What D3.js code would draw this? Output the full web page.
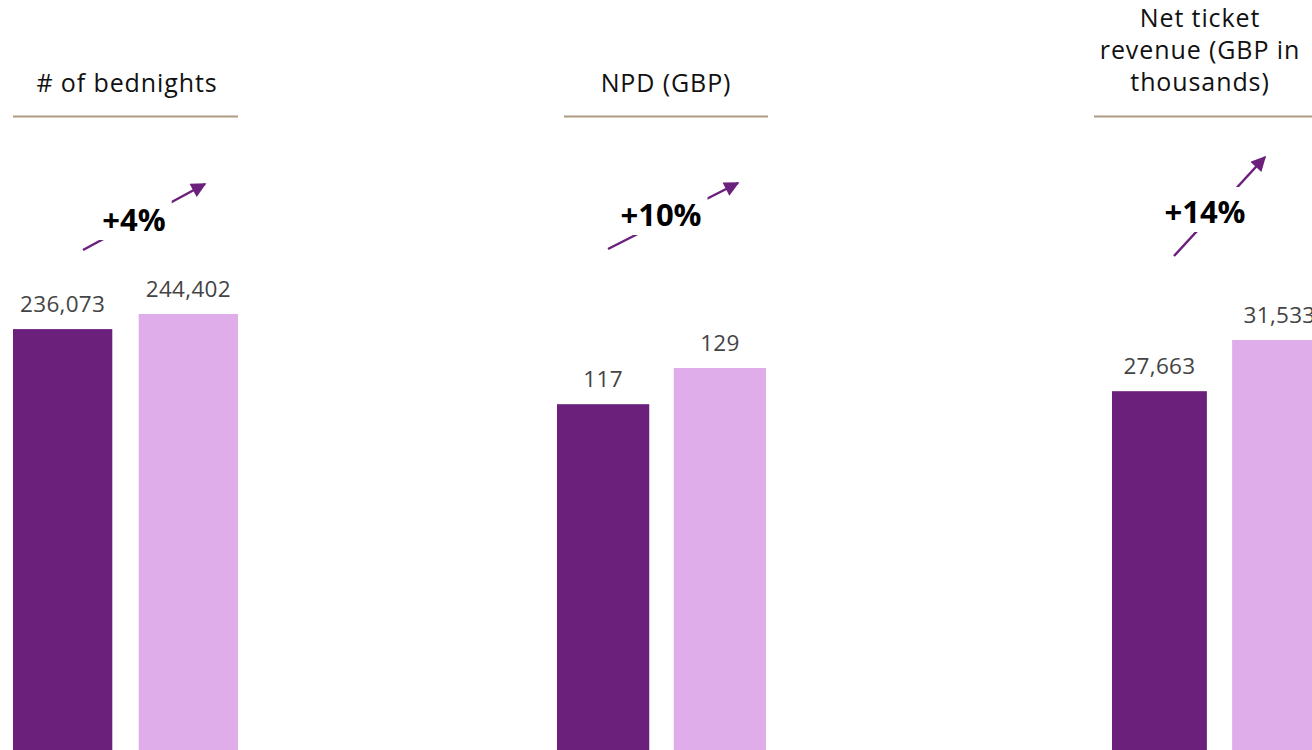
<!DOCTYPE html>
<html>
<head>
<meta charset="utf-8">
<script src="https://cdn.jsdelivr.net/npm/d3@7/dist/d3.min.js"></script>
<style>
  html, body { margin: 0; padding: 0; background: #fff; }
  svg { display: block; }
  text { font-family: "Open Sans", "Noto Sans", sans-serif; }
</style>
</head>
<body>
<svg id="chart" width="1312" height="750"></svg>
<script>
// Metric headers (one entry per line of the header)
const titleLines = [
  ["# of bednights"],
  ["NPD (GBP)"],
  ["Net ticket", "revenue (GBP in", "thousands)"]
];
const periods = ["previous", "current"];
const previousValues = [236073, 117, 27663];
const currentValues = [244402, 129, 31533];
const changeLabels = ["+4%", "+10%", "+14%"];

// Layout of each small-multiple panel
const W = 1312, H = 750;
const baseline = 757;
const panels = [
  { bars: [13, 238], rule: [13, 238], titleX: 127, titleY: 92, top: 314,
    arrow: [[83, 250], [205, 184]], pct: [134, 231] },
  { bars: [557, 766], rule: [564, 768], titleX: 666, titleY: 92, top: 368,
    arrow: [[608, 249], [738, 183]], pct: [661, 226] },
  { bars: [1112, 1327], rule: [1094, 1320], titleX: 1200, titleY: 27, top: 340,
    arrow: [[1174, 256], [1265, 157]], pct: [1205, 223] }
];

const colors = d3.scaleOrdinal().domain(periods).range(["#6b207b", "#dfadea"]);
const accent = "#6b207b";
const fmt = d3.format(",");

const svg = d3.select("#chart");

svg.append("defs").append("marker")
  .attr("id", "head")
  .attr("markerUnits", "userSpaceOnUse")
  .attr("viewBox", "0 0 10 10")
  .attr("refX", 9).attr("refY", 5)
  .attr("markerWidth", 17).attr("markerHeight", 15)
  .attr("orient", "auto")
  .append("path")
  .attr("d", "M0,0 L10,5 L0,10 Z")
  .attr("fill", accent);

panels.forEach((p, i) => {
  const g = svg.append("g");
  const rows = periods.map((k, j) => ({ key: k, value: j === 0 ? previousValues[i] : currentValues[i] }));

  const x = d3.scaleBand().domain(periods).range(p.bars).paddingInner(0.21).paddingOuter(0);
  const y = d3.scaleLinear().domain([0, d3.max(rows, d => d.value)]).range([baseline, p.top]);

  // header
  const t = g.append("text")
    .attr("x", p.titleX).attr("y", p.titleY)
    .attr("text-anchor", "middle")
    .attr("font-size", 25).attr("letter-spacing", 0.9).attr("fill", "#111");
  titleLines[i].forEach((line, k) => {
    t.append("tspan").attr("x", p.titleX).attr("dy", k === 0 ? 0 : 32).text(line);
  });

  g.append("line")
    .attr("x1", p.rule[0]).attr("x2", p.rule[1])
    .attr("y1", 116.5).attr("y2", 116.5)
    .attr("stroke", "#ad9a82").attr("stroke-width", 2);

  // bars
  g.selectAll("rect.bar").data(rows).join("rect")
    .attr("class", "bar")
    .attr("x", d => x(d.key))
    .attr("width", x.bandwidth())
    .attr("y", d => y(d.value))
    .attr("height", d => baseline - y(d.value))
    .attr("fill", d => colors(d.key));

  // value labels
  g.selectAll("text.val").data(rows).join("text")
    .attr("class", "val")
    .attr("x", d => x(d.key) + x.bandwidth() / 2)
    .attr("y", d => y(d.value) - 17)
    .attr("text-anchor", "middle")
    .attr("font-size", 22.5).attr("letter-spacing", 0.3).attr("fill", "#444")
    .text(d => fmt(d.value));

  // growth arrow with the change label sitting on it
  g.append("line")
    .attr("x1", p.arrow[0][0]).attr("y1", p.arrow[0][1])
    .attr("x2", p.arrow[1][0]).attr("y2", p.arrow[1][1])
    .attr("stroke", accent).attr("stroke-width", 2.5)
    .attr("marker-end", "url(#head)");

  const pct = g.append("text")
    .attr("x", p.pct[0]).attr("y", p.pct[1])
    .attr("text-anchor", "middle")
    .attr("font-size", 31).attr("font-weight", 700).attr("fill", "#000")
    .text(changeLabels[i]);
  const bb = pct.node().getBBox();
  g.insert("rect", () => pct.node())
    .attr("x", bb.x - 6).attr("y", bb.y - 3)
    .attr("width", bb.width + 12).attr("height", bb.height + 3)
    .attr("fill", "#fff");
});
</script>
</body>
</html>
